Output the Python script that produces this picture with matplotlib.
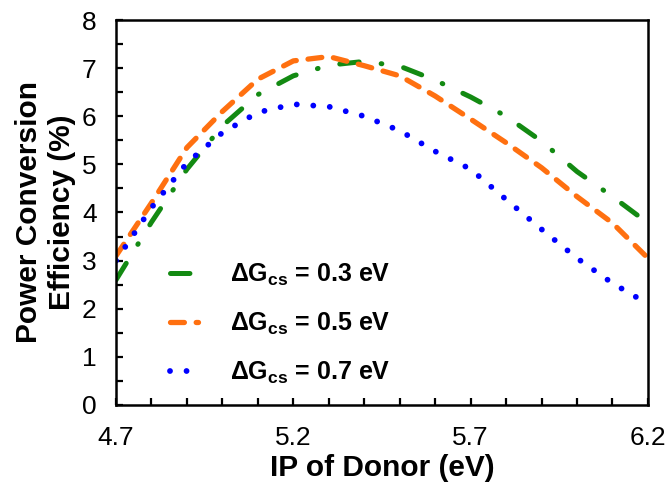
import matplotlib
matplotlib.use("Agg")
import matplotlib.pyplot as plt
from matplotlib.ticker import MultipleLocator

plt.rcParams['font.family'] = ['Liberation Sans', 'DejaVu Sans']
plt.rcParams['mathtext.fontset'] = 'custom'
plt.rcParams['mathtext.rm'] = 'Liberation Sans:bold'
plt.rcParams['mathtext.bf'] = 'Liberation Sans:bold'
plt.rcParams['lines.scale_dashes'] = False

# IP of donor (eV)
ip = [4.7, 4.8, 4.9, 5.0, 5.1, 5.2, 5.3, 5.4, 5.5, 5.6, 5.7, 5.8, 5.9, 6.0, 6.1, 6.2]

# power conversion efficiency (%) for each dG_cs
pce_03 = [2.6, 3.8, 4.9, 5.8, 6.45, 6.84, 7.06, 7.14, 7.04, 6.75, 6.4, 6.0, 5.48, 4.85, 4.33, 3.78]
pce_05 = [3.1, 4.2, 5.35, 6.1, 6.77, 7.15, 7.24, 7.05, 6.84, 6.42, 5.94, 5.45, 4.93, 4.33, 3.78, 3.05]
pce_07 = [3.0, 4.1, 5.03, 5.66, 6.08, 6.25, 6.2, 6.0, 5.7, 5.27, 4.9, 4.27, 3.65, 3.05, 2.53, 2.1]

labels = [r'ΔG$_{\rm cs}$ = 0.3 eV', r'ΔG$_{\rm cs}$ = 0.5 eV', r'ΔG$_{\rm cs}$ = 0.7 eV']

fig = plt.figure(figsize=(6.68, 4.82), dpi=100)
ax = fig.add_axes([0.1737, 0.1598, 0.7963, 0.7987])

ax.plot(ip, pce_03, color='#138a12', lw=3.6, dash_capstyle='round',
        dashes=(14, 16, 0.5, 16), label=labels[0])
ax.plot(ip, pce_05, color='#ff7010', lw=3.8, dash_capstyle='round',
        dashes=(10, 8.5), label=labels[1])
ax.plot(ip, pce_07, color='#0000ff', lw=4.2, dash_capstyle='round',
        dashes=(0.01, 11.9), label=labels[2])

ax.set_xlim(4.7, 6.2)
ax.set_ylim(0, 8)
ax.set_xticks([4.7, 5.2, 5.7, 6.2])
ax.xaxis.set_minor_locator(MultipleLocator(0.1))
ax.yaxis.set_major_locator(MultipleLocator(1))
ax.yaxis.set_minor_locator(MultipleLocator(0.5))
ax.tick_params(which='both', direction='in', length=5, width=1.6, labelsize=19)
ax.tick_params(axis='x', which='both', pad=15)
ax.tick_params(axis='y', which='both', pad=14)
ax.tick_params(which='both', top=False, right=False)
for s in ax.spines.values():
    s.set_linewidth(1.8)

ax.set_xlabel('IP of Donor (eV)', fontsize=21.5, fontweight='bold', labelpad=3)
ax.set_ylabel('Power Conversion\nEfficiency (%)', fontsize=21.5, fontweight='bold',
              labelpad=4, linespacing=1.25)

ax.legend(loc='lower left', bbox_to_anchor=(0.06, -0.01), frameon=False,
          prop={'size': 18, 'weight': 'bold'}, handlelength=1.1,
          handletextpad=1.3, labelspacing=0.92)

fig.savefig('out.png', dpi=100)
